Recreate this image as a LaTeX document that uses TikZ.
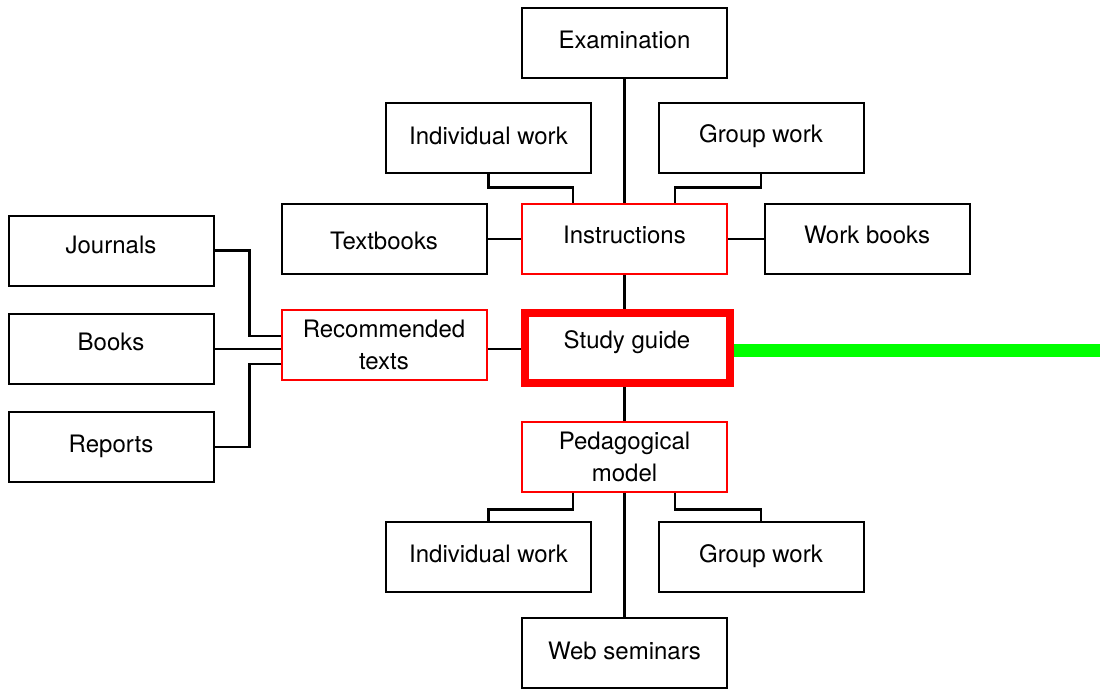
\documentclass[tikz,border=0pt]{standalone}
\usepackage{fontspec}
\setmainfont{TeX Gyre Heros}
\definecolor{guideRed}{RGB}{255,0,0}
\definecolor{guideGreen}{RGB}{0,255,0}
\begin{document}
\begin{tikzpicture}[x=1pt,y=-1pt,
  every node/.style={font=\fontsize{24}{32}\selectfont},
  box/.style={draw=black, line width=2pt, minimum width=205pt, minimum height=70pt,
              inner sep=0pt, align=center},
  redbox/.style={box, draw=guideRed},
  % single-line text: raise the words by #1 above the box centre
  lift/.code={\pgfmathsetlengthmacro\liftH{23.2pt-2*#1pt}%
              \tikzset{text depth=6pt, text height/.expanded=\liftH}},
  link/.style={draw=black, line width=2.2pt},
]
\useasboundingbox (0,0) rectangle (1103,689);

% boxes
\node[box, lift=3]      (exam)     at (624.5,43)    {Examination};
\node[box, lift=1.5]    (indT)     at (488.5,137.5) {Individual work};
\node[box, lift=3.5]    (grpT)     at (761,137.5)   {Group work};
\node[box, lift=-1.5]   (textb)    at (384,239)     {Textbooks};
\node[redbox, lift=4]   (instr)    at (624.5,239)   {Instructions};
\node[box, lift=4]      (workb)    at (867,239)     {Work books};
\node[box, lift=5.5]    (journals) at (111,250.5)   {Journals};
\node[box, lift=7]      (books)    at (111,349)     {Books};
\node[box, lift=3]      (reports)  at (111,447)     {Reports};
\node[redbox]           (rec)      at (384,345)     {Recommended\\texts};
\node[redbox, line width=8pt, lift=8] (study) at (627,348) {Study guide};
\node[redbox]           (ped)      at (624.5,456.5) {Pedagogical\\model};
\node[box, lift=2.5]    (indB)     at (488.5,556.5) {Individual work};
\node[box, lift=2.5]    (grpB)     at (761,556.5)   {Group work};
\node[box, lift=2]      (web)      at (624.5,653)   {Web seminars};
\coordinate (gend) at (1100,350);

% central spine
\draw[link] (exam) -- (instr);
\draw[link] (instr.south) -- (instr.south |- study.north);
\draw[link] (ped.north) -- (ped.north |- study.south);
\draw[link] (ped) -- (web);

% around the instructions
\draw[link] (indT.south) -- ++(0,14) -| ([xshift=-51.5pt]instr.north);
\draw[link] (grpT.south) -- ++(0,14) -| ([xshift=50.5pt]instr.north);
\draw[link] (textb) -- (instr);
\draw[link] (instr) -- (workb);

% recommended texts
\draw[link] (journals.east) -- ++(35,0) |- ([yshift=9pt]rec.west);
\draw[link] (books.east) -- (books.east -| rec.west);
\draw[link] (reports.east) -- ++(35,0) |- ([yshift=-19pt]rec.west);
\draw[link] ([yshift=-4pt]rec.east) -- ([yshift=-4pt]rec.east -| study.west);

% pedagogical model
\draw[link] ([xshift=-51.5pt]ped.south) -- ++(0,17) -| (indB.north);
\draw[link] ([xshift=50.5pt]ped.south) -- ++(0,17) -| (grpB.north);

% outgoing bar
\draw[guideGreen, line width=13pt] (study.east |- gend) -- (gend);
\end{tikzpicture}
\end{document}
